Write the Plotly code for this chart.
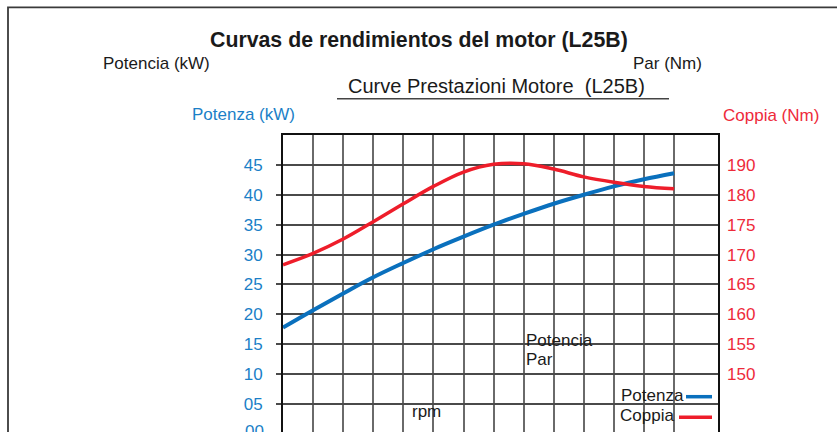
import plotly.graph_objects as go

# ---- data ----
rpm = [1000, 1100, 1200, 1300, 1400, 1500, 1600, 1700, 1800, 1900, 2000, 2100, 2200, 2300]
potenza_kw = [17.8, 20.7, 23.5, 26.2, 28.6, 30.9, 33.0, 35.0, 36.8, 38.5, 40.0, 41.4, 42.6, 43.6]
coppia_nm = [168.3, 170.2, 172.6, 175.5, 178.5, 181.4, 183.8, 185.1, 185.2, 184.3, 183.0, 182.1, 181.4, 181.0]

left_ticks = [5, 10, 15, 20, 25, 30, 35, 40, 45]
left_labels = ["05", "10", "15", "20", "25", "30", "35", "40", "45"]
right_ticks = [150, 155, 160, 165, 170, 175, 180, 185]
right_labels = ["150", "155", "160", "165", "170", "175", "180", "190"]

FONT = "Liberation Sans, Arial, Helvetica, sans-serif"
BLUE_LINE = "#0a70bd"
RED_LINE = "#ee1d2a"
BLUE_TXT = "#1b7fc7"
RED_TXT = "#ee2a3a"

W, H = 837, 432
L, R, T, B = 283, 119, 135, 0
PW, PH = W - L - R, H - T - B


def px(x):
    return (x - L) / PW


def py(y):
    return (H - B - y) / PH


fig = go.Figure()
fig.add_trace(go.Scatter(x=rpm, y=potenza_kw, mode="lines", name="Potenza",
                         line=dict(color=BLUE_LINE, width=4, shape="spline"),
                         yaxis="y", showlegend=False))
fig.add_trace(go.Scatter(x=rpm, y=coppia_nm, mode="lines", name="Coppia",
                         line=dict(color=RED_LINE, width=3.5, shape="spline"),
                         yaxis="y2", showlegend=False))

ann = []


def text(x, y, s, size=17, color="#1a1a1a", anchor="left", bold=False):
    ann.append(dict(x=px(x), y=py(y), xref="paper", yref="paper", text=(f"<b>{s}</b>" if bold else s),
                    showarrow=False, xanchor=anchor, yanchor="middle",
                    font=dict(family=FONT, size=size, color=color)))


text(419, 40, "Curvas de rendimientos del motor (L25B)", size=21.3, anchor="center", bold=True)
text(101, 63, "Potencia (kW)")
text(631, 63, "Par (Nm)")
text(346, 86, "Curve Prestazioni Motore&nbsp;&nbsp;(L25B)", size=20)
text(190, 114, "Potenza (kW)", color=BLUE_TXT)
text(721, 115, "Coppia (Nm)", color=RED_TXT)
text(410, 411, "rpm")
text(524, 340, "Potencia")
text(524, 359, "Par")
text(619, 395, "Potenza")
text(618, 415, "Coppia")
text(266, 431, "00", color=BLUE_TXT, anchor="right")

shapes = [
    # outer frame
    dict(type="rect", xref="paper", yref="paper", x0=px(8), x1=px(850), y0=py(7.3), y1=py(450),
         line=dict(color="#3a3a3a", width=1.8), layer="above"),
    # underline of the Italian title
    dict(type="line", xref="paper", yref="paper", x0=px(337), x1=px(669), y0=py(98.7), y1=py(98.7),
         line=dict(color="#444444", width=1.5)),
    # legend box
    dict(type="rect", xref="paper", yref="paper", x0=px(615.5), x1=px(718), y0=py(374), y1=py(423),
         fillcolor="white", line=dict(width=0), layer="between"),
    # legend samples
    dict(type="line", xref="paper", yref="paper", x0=px(686), x1=px(712), y0=py(396.7), y1=py(396.7),
         line=dict(color=BLUE_LINE, width=3.5)),
    dict(type="line", xref="paper", yref="paper", x0=px(679), x1=px(712), y0=py(417.3), y1=py(417.3),
         line=dict(color=RED_LINE, width=3.5)),
]

fig.update_layout(
    width=W, height=H,
    margin=dict(l=L, r=R, t=T, b=B, pad=0),
    paper_bgcolor="white", plot_bgcolor="white",
    font=dict(family=FONT),
    annotations=ann, shapes=shapes,
    xaxis=dict(range=[1000, 2446], tickvals=rpm, showticklabels=False, ticks="",
               showgrid=True, gridcolor="#6a6a6a", gridwidth=1.5, zeroline=False,
               showline=True, mirror=True, linecolor="#111111", linewidth=2),
    yaxis=dict(range=[0.33, 50], tickvals=left_ticks, ticktext=left_labels,
               tickfont=dict(family=FONT, size=17, color=BLUE_TXT),
               ticks="outside", ticklen=5, tickcolor="#4a4a4a", tickwidth=1.5,
               ticklabelstandoff=10,
               showgrid=True, gridcolor="#4a4a4a", gridwidth=1.5, zeroline=False,
               showline=True, mirror=True, linecolor="#111111", linewidth=2),
    yaxis2=dict(range=[140.33, 190], overlaying="y", side="right",
                tickvals=right_ticks, ticktext=right_labels,
                tickfont=dict(family=FONT, size=17, color=RED_TXT),
                ticks="", ticklabelstandoff=8,
                showgrid=False, zeroline=False, showline=False),
)

fig.write_html("out.html",
               config={"displayModeBar": False},
               post_script="document.body.style.margin='0';document.body.style.padding='0';"
                           "document.documentElement.style.overflow='hidden';")
